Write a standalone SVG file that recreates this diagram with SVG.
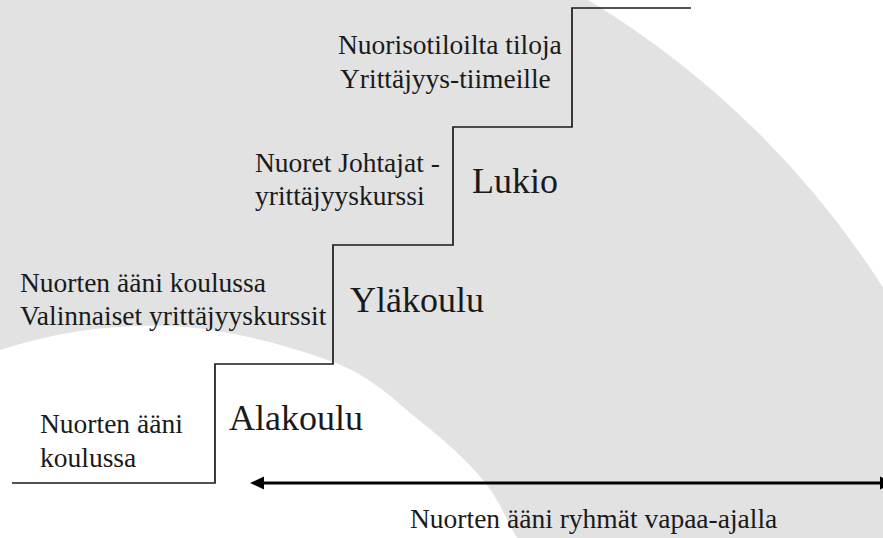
<svg xmlns="http://www.w3.org/2000/svg" width="883" height="538" viewBox="0 0 883 538">
  <style>
    .lbl { font-family: "Liberation Serif", "Times New Roman", serif; font-size: 27.5px; fill: #1a1a1a; }
    .big { font-family: "Liberation Serif", "Times New Roman", serif; font-size: 36px; fill: #1a1a1a; }
    .stair { fill: none; stroke: #1a1a1a; stroke-width: 1.7; }
    .arrow { fill: none; stroke: #000000; stroke-width: 3; }
    .head { fill: #000000; }
  </style>
  <rect x="0" y="0" width="883" height="538" fill="#ffffff"/>
  <g id="background">
    <path d="M 0 0 L 588 0 A 906 906 0 0 1 883 287.5 L 883 538 L 517 538 C 505.7 518.7, 499.2 499.5, 483 480 C 466.8 460.5, 445 440.7, 420 421 C 395 401.3, 374.7 377.8, 333 362 C 291.3 346.2, 225.5 328, 170 326 C 114.5 324, 57 331, 0 350 Z" fill="#e2e2e2"/>
  </g>
  <g id="connectors">
    <polyline id="stairs" class="stair" points="12,483 215,483 215,364 333,364 333,245 453,245 453,127 572,127 572,8 691,8"/>
    <g id="timeline">
      <line class="arrow" x1="261" y1="483" x2="882" y2="483"/>
      <polygon class="head" points="250,483 264,476.5 264,489.5"/>
      <polygon class="head" points="880,476.5 894,483 880,489.5"/>
    </g>
  </g>
  <g id="node-lukio-activities">
    <text class="lbl" x="338" y="54">Nuorisotiloilta tiloja</text>
    <text class="lbl" x="340" y="88">Yrittäjyys-tiimeille</text>
  </g>
  <g id="node-lukio-course">
    <text class="lbl" x="255" y="172">Nuoret Johtajat -</text>
    <text class="lbl" x="255" y="205">yrittäjyyskurssi</text>
  </g>
  <g id="node-lukio">
    <text class="big" x="472" y="193">Lukio</text>
  </g>
  <g id="node-ylakoulu-activities">
    <text class="lbl" x="20" y="292">Nuorten ääni koulussa</text>
    <text class="lbl" x="20" y="325">Valinnaiset yrittäjyyskurssit</text>
  </g>
  <g id="node-ylakoulu">
    <text class="big" x="350" y="312">Yläkoulu</text>
  </g>
  <g id="node-alakoulu-activities">
    <text class="lbl" x="40" y="433">Nuorten ääni</text>
    <text class="lbl" x="40" y="467">koulussa</text>
  </g>
  <g id="node-alakoulu">
    <text class="big" x="229" y="430">Alakoulu</text>
  </g>
  <g id="node-leisure">
    <text class="lbl" x="410" y="528">Nuorten ääni ryhmät vapaa-ajalla</text>
  </g>
</svg>
